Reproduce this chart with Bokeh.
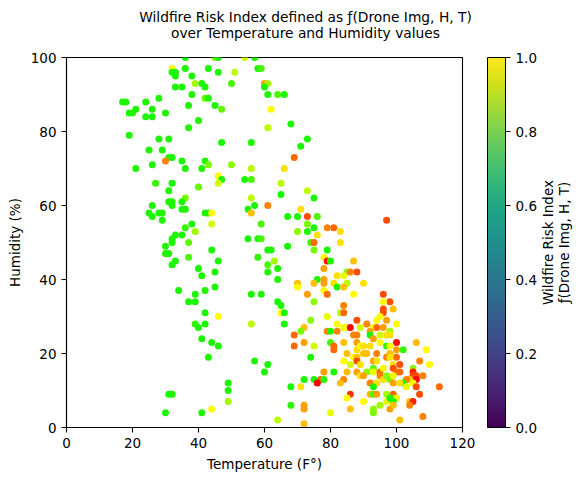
from bokeh.embed import file_html
from bokeh.resources import INLINE
from bokeh.plotting import figure
from bokeh.models import (ColumnDataSource, ColorBar, FixedTicker, Label, LinearColorMapper,
                          PrintfTickFormatter, Range1d)
from bokeh.palettes import Viridis256
from bokeh.transform import linear_cmap

temperature = [
    36,45,46,54,57,32,36,43,58,32, 33,33,46,51,38,39,41,42,50,33,
    35,38,42,43,28,17,18,24,37,45, 47,21,26,19,20,30,24,26,40,37,
    19,28,31,47,56,25,29,31,32,30, 35,42,43,26,36,41,21,50,56,46,
    47,46,54,56,27,32,40,31,36,35, 31,32,32,26,56,57,55,56,35,36,
    25,28,29,42,43,44,26,29,38,36, 44,39,33,35,32,55,58,32,37,30,
    44,30,31,37,58,33,46,32,40,45, 41,45,34,42,39,56,59,37,39,42,
    46,39,42,56,40,41,44,46,43,57, 49,49,31,32,49,44,30,41,
    59,60,61,60,61,64,66,62,68,61, 73,71,69,66,65,73,65,75,61,71,
    67,70,73,76,97,59,73,75,79,81, 70,73,83,76,59,74,75,83,
    67,61,62,75,79,78,79,80,63,87, 61,64,78,61,85,86,88,82,84,64,
    76,78,70,75,78,81,85,90,82,84, 70,78,73,79,87,75,64,65,84,65,
    66,83,84,79,88,74,66,72,71,82, 84,85,86,79,80,82,69,87,88,72,
    80,84,88,69,75,81,81,88,85,74, 87,88,84,88,86,61,60,78,81,85,
    88,72,75,77,78,84,76,83,68,71, 86,85,68,72,72,86,80,64,72,
    96,98,96,96,96,99,95,94,97,91, 100,93,94,96,89,98,92,92,95,97,
    98,93,95,100,106,89,90,92,97,98, 100,102,109,90,91,94,98,97,100,98,
    89,93,94,99,101,107,110,91,93,93, 95,96,99,100,101,105,89,90,95,96,
    97,98,99,105,105,106,108,106,104,103, 92,94,99,102,101,105,93,103,106,113,
    92,93,94,97,99,107,100,90,97,98, 99,95,93,93,98,99,104,105,104,101,108,
]
humidity = [
    100,100,100,100,100,97,97,97,97,96, 96,95,96,96,95,93,93,92,93,92,
    92,90,89,89,89,88,88,88,87,87, 86,86,86,85,85,85,84,84,83,81,
    79,78,78,77,77,75,75,73,73,72, 72,72,71,71,70,70,70,71,70,68,
    67,66,67,67,66,66,65,64,62,61, 61,61,60,60,62,60,59,58,59,59,
    58,58,58,58,58,58,57,56,55,54, 55,53,52,52,51,51,51,50,50,49,
    48,47,47,46,46,45,45,44,43,42, 41,38,37,37,36,36,36,34,34,31,
    30,28,28,28,27,24,23,22,19,18, 12,10,9,9,7,5,4,4,
    97,93,93,92,90,90,90,86,82,81, 78,76,73,70,66,64,63,62,60,59,
    57,57,57,57,56,55,55,54,54,54, 53,53,53,52,51,50,50,50,
    49,48,48,48,48,46,45,45,45,45, 44,43,43,42,42,42,42,41,41,40,
    40,40,39,39,39,39,39,39,38,38, 38,37,36,36,36,34,34,33,33,31,
    31,31,31,30,29,29,28,27,26,28, 27,27,27,26,26,26,25,25,25,23,
    23,23,23,22,22,22,21,21,20,19, 19,19,18,18,17,17,15,15,15,15,
    15,13,13,13,13,13,12,12,11,11, 9,8,6,6,5,5,4,2,1,
    36,34,34,32,31,32,30,29,29,28, 28,27,27,27,27,26,26,25,25,25,
    25,24,23,23,23,22,22,22,22,22, 21,21,21,20,20,20,20,19,19,19,
    17,18,18,17,17,18,17,15,16,15, 15,16,16,15,15,16,14,14,14,13,
    14,13,14,15,14,14,14,13,13,13, 12,12,12,12,12,12,11,11,11,11,
    9,9,9,9,9,9,8,7,7,8, 7,6,5,4,5,6,7,7,6,2,3,
]
risk = [
    1,.8,1,.6,1,.5,1,1,1,1, 1,1,1,.65,1,.7,1,1,.9,1,
    1,1,.85,1,1,1,1,1,1,1, .85,1,1,1,1,1,1,1,1,1,
    1,1,1,1,1,1,1,1,1,.3, 1,1,.8,1,1,1,1,.75,.65,.5,
    1,.6,1,.9,.95,1,.85,1,.8,1, 1,1,1,1,.65,1,1,.4,1,1,
    1,1,1,1,1,.5,1,1,1,.95, .6,.7,1,1,1,1,1,1,.85,1,
    1,1,1,.9,.95,1,1,1,1,1, 1,1,1,1,1,1,1,1,1,1,
    .5,.95,1,.65,1,1,1,1,1,1, 1,1,1,1,.7,.5,1,1,
    .9,.35,.7,1,1,.9,1,.5,1,.65, 1,1,.25,.45,.65,.65,1,1,.3,.45,
    1,1,.2,.9,.2,.9,.8,1,.3,.25, .75,1,.45,.45,.9,.9,.25,.45,
    1,1,1,.8,1,.5,.05,1,.7,.4, .9,1,.35,1,.75,.3,.2,.45,.55,1,
    1,.35,.4,.4,.35,.45,.65,.45,1,.4, .5,.5,.35,.25,.5,.75,1,1,.3,.5,
    1,.65,.25,.55,.2,.75,1,.4,.8,.5, .55,.5,0,.3,1,.3,.25,.3,.3,.35,
    .9,.4,.35,.25,.6,.25,.25,.45,.4,1, .5,.4,.5,.2,.6,1,1,.35,1,.4,
    .35,1,1,.25,.95,.3,0,.4,1,.45, .15,.5,.95,.35,.35,.4,.55,.65,.4,
    .2,.2,.5,.2,.2,.4,.5,.5,.35,.3, .5,.5,.25,.35,.6,.7,.35,1,.6,.45,
    .45,.35,.5,.05,.4,.5,.45,.45,1,.5, .35,.95,.5,.4,.4,.3,.4,.3,.25,.45,
    .45,.35,.45,.45,.2,.3,.5,.75,.85,.55, .25,.5,.2,.25,.25,.75,.45,.35,.3,.45,
    .75,.8,.55,.1,.2,.2,.3,.02,.4,.3, .3,.45,.35,1,.45,.5,1,.55,.2,.25,
    .4,.9,.35,.7,.25,.2,.55,.5,.55,1, 1,.7,.75,.8,.35,.4,.4,.1,.3,.4,.3,
]
assert len(temperature) == len(humidity) == len(risk)

x_ticks = [0, 20, 40, 60, 80, 100, 120]
y_ticks = [0, 20, 40, 60, 80, 100]
bar_ticks = [0.0, 0.2, 0.4, 0.6, 0.8, 1.0]

title_text = "Wildfire Risk Index defined as \u0192(Drone Img, H, T)\nover Temperature and Humidity values"
x_title = "Temperature (F\u00b0)"
y_title = "Humidity (%)"
bar_title = "Wildfire Risk Index\n\u0192(Drone Img, H, T)"

FONT = "DejaVu Sans"
SIZE = "13.5px"

# red -> yellow -> green, the colours of the points
point_palette = []
for i in range(128):
    point_palette.append("#ff%02x00" % int(255 * (i / 127) ** 1.3))
for i in range(128):
    t = i / 127
    point_palette.append("#%02x%02x00" % (int(255 + (30 - 255) * t), int(255 + (245 - 255) * t)))

p = figure(width=575, height=472, output_backend="svg", toolbar_location=None,
           x_range=Range1d(0, 120), y_range=Range1d(0, 100),
           min_border_left=66, min_border_right=113, min_border_top=57, min_border_bottom=45,
           frame_width=396, frame_height=370, background_fill_color="white")
p.grid.visible = False
p.outline_line_color = "black"
p.outline_line_width = 1.1

for ax, ticks, label in ((p.xaxis[0], x_ticks, x_title), (p.yaxis[0], y_ticks, y_title)):
    ax.ticker = FixedTicker(ticks=ticks)
    ax.axis_label = label
    ax.axis_label_text_font = FONT
    ax.axis_label_text_font_size = SIZE
    ax.axis_label_text_font_style = "normal"
    ax.axis_label_text_color = "black"
    ax.major_label_text_font = FONT
    ax.major_label_text_font_size = SIZE
    ax.major_label_text_color = "black"
    ax.major_tick_out = 5
    ax.major_tick_in = 0
    ax.minor_tick_out = 0
    ax.minor_tick_in = 0
    ax.axis_line_color = "black"
    ax.major_tick_line_color = "black"
    ax.axis_line_width = 1.1
    ax.major_tick_line_width = 1.1
p.yaxis[0].major_label_orientation = "horizontal"

source = ColumnDataSource(dict(temperature=temperature, humidity=humidity, risk=risk))
p.scatter("temperature", "humidity", source=source, size=7, line_color=None,
          fill_color=linear_cmap("risk", point_palette, 0, 1))

bar = ColorBar(color_mapper=LinearColorMapper(palette=Viridis256, low=0, high=1),
               ticker=FixedTicker(ticks=bar_ticks), formatter=PrintfTickFormatter(format="%.1f"),
               width=18, height=370, location=(421, 0), padding=0, margin=0,
               background_fill_color=None, border_line_color=None,
               bar_line_color="black", bar_line_width=1,
               major_tick_line_color="black", major_tick_out=5, major_tick_in=0,
               minor_tick_line_color=None,
               major_label_text_color="black",
               major_label_text_font=FONT, major_label_text_font_size=SIZE)
p.add_layout(bar, "center")

# Labels in a side panel: positions measured from the panel's edge next to the frame
p.add_layout(Label(x=239, y=33, x_units="screen", y_units="screen", text=title_text,
                   text_font=FONT, text_font_size="13.8px", text_align="center",
                   text_baseline="middle", text_color="black", text_line_height=1.0), "above")
p.add_layout(Label(x=93, y=185, x_units="screen", y_units="screen", text=bar_title,
                   angle=90, angle_units="deg", text_font=FONT, text_font_size=SIZE,
                   text_align="center", text_baseline="middle", text_color="black",
                   text_line_height=1.0), "right")

open("out.html", "w").write(file_html(p, INLINE))
